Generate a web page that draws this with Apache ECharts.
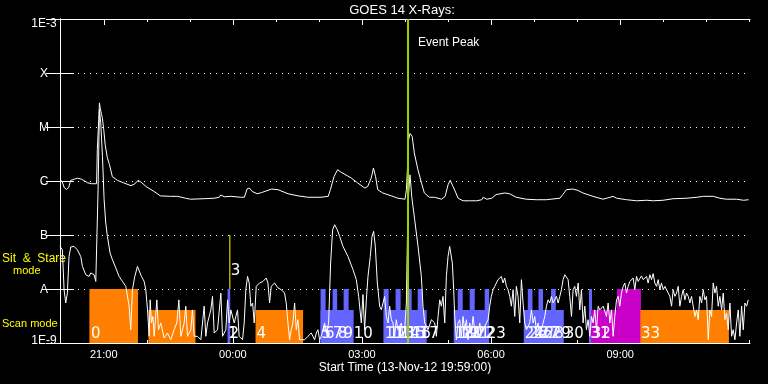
<!DOCTYPE html>
<html><head><meta charset="utf-8">
<script src="https://cdn.jsdelivr.net/npm/echarts@6/dist/echarts.min.js"></script>
<style>html,body{margin:0;padding:0;background:#000}#c{width:768px;height:384px}</style>
</head><body><div id="c"></div>
<script>
// time in minutes after start (13-Nov-12 19:59:00), flux in W/m^2
const xMax = 962;
const xTickMinutes = [61, 241, 421, 601, 781];
const xTickLabels = ['21:00', '00:00', '03:00', '06:00', '09:00'];
const xHourTicks = [1, 61, 121, 181, 241, 301, 361, 421, 481, 541, 601, 661, 721, 781, 841, 901, 961];
const yTickValues = [1e-9, 1e-8, 1e-7, 1e-6, 1e-5, 1e-4, 1e-3];
const yTickLabels = ['1E-9', 'A', 'B', 'C', 'M', 'X', '1E-3'];

const lwData = [[0,1.06e-6],[3,9.7e-7],[6,7.5e-7],[9,7.0e-7],[12,7.5e-7],[15,1.03e-6],[20,1.08e-6],[24,1.13e-6],[30,1.08e-6],[34,1.01e-6],[38,9.3e-7],[44,8.9e-7],[51,8.9e-7],[52,3.8e-6],[54,1.36e-5],[55,2.8e-5],[56,2.28e-5],[58,1.69e-5],[59,1.49e-5],[61,8.9e-6],[63,4.7e-6],[66,2.7e-6],[69,2.0e-6],[73,1.2e-6],[80,1.03e-6],[89,9.2e-7],[99,8.2e-7],[104,8.8e-7],[109,1.03e-6],[114,9.3e-7],[120,7.9e-7],[131,6.4e-7],[140,5.3e-7],[154,5.2e-7],[164,5.2e-7],[175,4.8e-7],[182,4.6e-7],[201,4.7e-7],[215,4.8e-7],[222,5.0e-7],[224,5.5e-7],[229,5.1e-7],[238,5.2e-7],[252,5.0e-7],[257,5.0e-7],[261,7.2e-7],[264,7.4e-7],[268,6.4e-7],[275,5.8e-7],[281,6.1e-7],[295,7.1e-7],[304,6.9e-7],[318,5.8e-7],[332,5.3e-7],[346,5.0e-7],[364,5.0e-7],[374,5.2e-7],[377,6.9e-7],[382,1.2e-6],[387,1.62e-6],[392,1.45e-6],[406,1.14e-6],[415,9.2e-7],[425,7.4e-7],[429,7.9e-7],[434,1.14e-6],[437,1.74e-6],[440,1.2e-6],[443,6.9e-7],[450,6.0e-7],[462,5.3e-7],[471,4.8e-7],[481,4.6e-7],[483,6.9e-7],[485,2.5e-6],[486,5.8e-6],[488,7.6e-6],[491,6.7e-6],[494,3.3e-6],[499,1.62e-6],[504,9.2e-7],[508,6.0e-7],[515,5.0e-7],[522,5.0e-7],[532,4.6e-7],[537,5.2e-7],[541,8.5e-7],[544,1.03e-6],[548,7.9e-7],[552,6.0e-7],[555,4.8e-7],[562,4.3e-7],[571,4.3e-7],[581,4.3e-7],[588,4.5e-7],[590,5.0e-7],[595,4.6e-7],[602,4.8e-7],[608,5.6e-7],[620,6.0e-7],[627,5.8e-7],[636,5.0e-7],[650,4.6e-7],[664,4.5e-7],[678,4.5e-7],[697,4.8e-7],[701,5.6e-7],[706,6.9e-7],[715,7.1e-7],[722,6.7e-7],[729,6.0e-7],[743,5.2e-7],[757,4.6e-7],[767,5.0e-7],[771,5.2e-7],[776,4.8e-7],[790,4.5e-7],[804,4.3e-7],[818,4.4e-7],[827,4.3e-7],[841,4.4e-7],[855,4.7e-7],[874,4.8e-7],[888,5.0e-7],[897,5.2e-7],[911,5.2e-7],[920,4.8e-7],[929,4.6e-7],[943,4.6e-7],[953,4.4e-7],[960,4.5e-7]];

const swData = [[0,6.15e-8],[3.3,5.3e-8],[5.7,9.7e-9],[8.0,5.5e-9],[10.3,8.4e-9],[12.6,4.0e-8],[15.0,6.0e-8],[19.6,6.15e-8],[24.3,5.3e-8],[28.9,4.0e-8],[31.3,2.62e-8],[35.9,1.84e-8],[40.6,1.71e-8],[42.9,1.98e-8],[47.5,1.84e-8],[49.9,1.38e-8],[51.3,1.29e-8],[53.1,6.9e-7],[55.0,2.09e-5],[56.8,1.19e-5],[59.2,2.86e-6],[61.5,4.5e-7],[63.8,1.67e-7],[66.1,9.4e-8],[69.9,4.6e-8],[73.1,3.49e-8],[77.8,2.45e-8],[82.4,1.71e-8],[87.1,1.38e-8],[91.7,1.12e-8],[96.4,4.8e-9],[98.7,1.76e-9],[101.0,9.7e-9],[104.3,1.71e-8],[108.0,2.62e-8],[110.3,2.82e-8],[113.6,1.71e-8],[117.3,1.38e-8],[119.6,9.7e-9],[122.0,4.1e-9],[124.3,1.33e-9],[125.7,6.3e-9],[127.5,2.35e-9],[129.4,3.1e-9],[131.3,1.33e-9],[135.0,6.3e-9],[137.3,1.76e-9],[140.5,2.35e-9],[145.2,1.24e-9],[149.8,1.53e-9],[154.5,1.15e-9],[159.1,1.76e-9],[162.9,2.35e-9],[165.7,6.3e-9],[168.5,1.33e-9],[173.1,2.35e-9],[175.4,4.8e-9],[177.8,1.33e-9],[182.4,1.76e-9],[184.7,4.1e-9],[187.1,1.33e-9],[191.7,1.33e-9],[196.4,1.15e-9],[201.0,4.8e-9],[203.3,1.33e-9],[205.7,2.35e-9],[210.3,4.1e-9],[212.6,7.3e-9],[215.0,1.53e-9],[219.6,1.76e-9],[224.3,8.4e-9],[226.6,1.33e-9],[231.2,1.76e-9],[233.6,6.3e-9],[235.9,2.35e-9],[238.2,4.1e-9],[242.9,2.35e-9],[247.5,4.1e-9],[249.8,1.33e-9],[254.5,1.15e-9],[256.8,2.35e-9],[259.1,9.7e-9],[261.5,1.71e-8],[263.8,1.29e-8],[266.1,4.8e-9],[268.5,5.5e-9],[270.8,2.35e-9],[273.6,1.12e-8],[278.2,1.29e-8],[282.9,1.38e-8],[287.5,1.6e-8],[289.9,1.29e-8],[292.2,5.5e-9],[294.5,1.12e-8],[299.2,1.29e-8],[303.8,1.05e-8],[308.5,9.7e-9],[313.1,8.4e-9],[315.4,5.5e-9],[317.8,2.35e-9],[320.1,1.15e-9],[322.4,1.76e-9],[324.7,2.35e-9],[327.1,5.5e-9],[329.4,1.76e-9],[331.7,2.7e-9],[334.0,1.15e-9],[341.0,1.15e-9],[345.7,1.33e-9],[350.3,1.53e-9],[355.0,1.15e-9],[357.3,1.53e-9],[359.6,1.76e-9],[362.0,1.15e-9],[364.3,1.33e-9],[368.9,2.35e-9],[371.3,1.53e-9],[374.5,2.35e-9],[377.3,3.03e-8],[380.1,1.25e-7],[382.9,1.55e-7],[386.6,1.25e-7],[389.9,9.4e-8],[394.5,6.15e-8],[401.5,4.0e-8],[408.5,2.28e-8],[413.1,1.49e-8],[416.4,7.3e-9],[420.1,2.35e-9],[422.4,7.9e-9],[424.7,1.76e-9],[427.1,6.3e-9],[429.4,1.71e-8],[432.6,4.0e-8],[435.0,9.4e-8],[437.3,1.17e-7],[439.6,6.15e-8],[442.4,1.29e-8],[445.7,4.8e-9],[448.0,4.1e-9],[450.3,5.5e-9],[452.6,7.3e-9],[455.0,3.1e-9],[457.3,2.35e-9],[459.6,4.8e-9],[462.0,2.7e-9],[464.3,2.35e-9],[466.6,1.33e-9],[468.9,2.7e-9],[471.2,1.76e-9],[475.9,2.35e-9],[478.2,1.33e-9],[480.5,1.76e-9],[482.9,5.5e-9],[484.3,8.2e-8],[486.1,6.0e-7],[488.0,1.3e-6],[490.5,5.0e-7],[494.5,1.92e-7],[499.2,6.15e-8],[503.8,1.71e-8],[506.1,4.8e-9],[508.5,2.35e-9],[513.1,1.76e-9],[517.8,2.7e-9],[522.4,2.35e-9],[524.7,1.33e-9],[527.1,3.1e-9],[529.4,6.3e-9],[531.7,4.8e-9],[534.0,7.3e-9],[536.4,2.35e-9],[538.7,1.71e-8],[541.0,4.0e-8],[543.3,6.15e-8],[547.0,3.03e-8],[548.9,9.7e-9],[550.3,3.1e-9],[552.6,1.15e-9],[554.9,2.35e-9],[557.3,2.7e-9],[559.6,1.33e-9],[561.9,3.1e-9],[564.2,1.76e-9],[566.6,2.7e-9],[568.9,1.15e-9],[571.2,2.35e-9],[573.5,1.53e-9],[575.9,3.1e-9],[578.2,1.76e-9],[580.5,2.03e-9],[582.8,1.33e-9],[585.2,2.35e-9],[587.5,1.53e-9],[589.8,1.76e-9],[594.5,2.35e-9],[596.8,2.7e-9],[599.1,4.8e-9],[601.4,7.3e-9],[603.8,9.7e-9],[606.1,1.12e-8],[608.4,1.29e-8],[610.7,1.49e-8],[613.1,1.38e-8],[615.4,1.71e-8],[617.7,1.29e-8],[620.0,1.6e-8],[622.4,1.12e-8],[624.7,9.7e-9],[627.0,7.3e-9],[629.3,4.8e-9],[631.7,9.7e-9],[634.0,3.1e-9],[636.3,1.12e-8],[638.6,7.3e-9],[641.0,2.35e-9],[643.3,1.49e-8],[645.6,5.5e-9],[648.0,2.35e-9],[650.3,1.76e-9],[654.9,2.35e-9],[657.3,4.1e-9],[659.6,2.35e-9],[661.9,3.1e-9],[664.2,1.76e-9],[666.6,2.35e-9],[668.9,1.33e-9],[673.5,2.35e-9],[675.9,3.1e-9],[678.2,4.8e-9],[680.5,6.3e-9],[682.8,5.5e-9],[685.2,7.3e-9],[687.5,5.5e-9],[692.1,7.3e-9],[694.5,5.5e-9],[696.8,7.3e-9],[699.1,9.7e-9],[701.4,1.49e-8],[703.8,1.84e-8],[706.1,1.84e-8],[708.4,1.49e-8],[710.7,7.3e-9],[713.1,3.1e-9],[715.4,9.7e-9],[717.7,1.12e-8],[720.0,7.3e-9],[722.4,1.29e-8],[724.7,4.1e-9],[727.0,9.7e-9],[729.3,2.35e-9],[731.7,4.8e-9],[734.0,1.76e-9],[736.3,2.7e-9],[738.6,1.33e-9],[741.0,3.1e-9],[743.3,2.35e-9],[745.6,4.1e-9],[748.0,1.76e-9],[750.3,4.8e-9],[752.6,4.1e-9],[757.3,4.8e-9],[761.9,3.1e-9],[764.2,5.5e-9],[766.6,2.35e-9],[768.9,4.1e-9],[771.2,1.33e-9],[773.5,3.1e-9],[775.9,6.3e-9],[778.2,7.3e-9],[780.5,4.8e-9],[782.8,8.4e-9],[785.2,1.12e-8],[787.5,1.29e-8],[789.8,8.4e-9],[792.1,1.12e-8],[794.5,1.38e-8],[796.8,1.49e-8],[799.1,1.6e-8],[801.4,9.7e-9],[803.8,1.71e-8],[806.1,1.38e-8],[808.4,1.49e-8],[810.7,1.75e-8],[813.1,1.49e-8],[815.4,1.6e-8],[817.7,1.71e-8],[820.0,1.29e-8],[822.4,1.84e-8],[824.7,1.49e-8],[827.0,1.92e-8],[829.3,1.29e-8],[831.7,1.12e-8],[834.0,1.49e-8],[836.3,9.7e-9],[838.6,1.29e-8],[841.0,9.7e-9],[843.3,1.12e-8],[845.6,9.7e-9],[848.0,8.4e-9],[850.3,7.3e-9],[852.6,4.8e-9],[854.9,9.7e-9],[857.3,7.3e-9],[859.6,8.4e-9],[861.9,1.12e-8],[864.2,4.8e-9],[866.6,7.3e-9],[868.9,9.7e-9],[871.2,6.3e-9],[873.5,8.4e-9],[875.9,7.3e-9],[878.2,5.5e-9],[880.5,7.3e-9],[882.8,4.8e-9],[885.2,3.1e-9],[887.5,4.1e-9],[889.8,2.7e-9],[892.1,7.3e-9],[894.5,5.5e-9],[896.8,9.7e-9],[899.1,6.3e-9],[901.4,7.3e-9],[903.8,1.15e-9],[906.1,4.1e-9],[908.4,3.1e-9],[910.7,1.29e-8],[913.1,8.4e-9],[915.4,1.12e-8],[917.7,4.8e-9],[920.0,7.3e-9],[922.4,4.1e-9],[924.7,8.4e-9],[927.0,2.7e-9],[929.3,3.6e-9],[931.7,1.76e-9],[934.0,5.5e-9],[936.3,1.33e-9],[938.6,1.76e-9],[941.0,1.15e-9],[943.3,2.35e-9],[945.6,4.1e-9],[947.9,1.33e-9],[950.3,4.8e-9],[952.6,1.76e-9],[954.9,5.5e-9],[957.3,4.8e-9],[959.6,6.3e-9]];

// observation blocks: start, end (minutes), top level, kind
const barStart = [41.0, 123.3, 233.6, 272.6, 363.3, 363.3, 380.1, 395.4, 451.2, 451.2, 467.9, 483.3, 498.7, 548.9, 554.5, 571.2, 592.1, 646.6, 652.2, 667.1, 684.6, 737.5, 740.3, 776.6, 809.1];
const barEnd   = [108.7, 188.9, 237.3, 338.9, 409.4, 370.3, 386.4, 402.4, 511.2, 458.2, 474.9, 490.3, 505.7, 597.7, 561.5, 578.2, 598.4, 702.4, 658.7, 673.5, 691.2, 741.7, 776.6, 810.0, 932.6];
const barTop   = [1e-8, 4.1e-9, 1e-8, 4.1e-9, 4.1e-9, 1e-8, 1e-8, 1e-8, 4.1e-9, 1e-8, 1e-8, 1e-8, 1e-8, 4.1e-9, 1e-8, 1e-8, 1e-8, 4.1e-9, 1e-8, 1e-8, 1e-8, 1e-8, 4.1e-9, 1e-8, 4.1e-9];
const barKind  = ['o','o','b','o','b','b','b','b','b','b','b','b','b','b','b','b','b','b','b','b','b','b','m','m','o'];
const kindColor = { o: '#ff8000', b: '#6464ff', m: '#c800c8' };

// observation numbers
const obsMin  = [43.1, 234.3, 236.4, 274.0, 364.7, 369.6, 380.1, 387.1, 395.4, 409.4, 452.6, 458.2, 467.9, 474.9, 483.3, 490.3, 501.5, 550.3, 555.9, 562.9, 572.6, 579.6, 595.0, 648.0, 653.6, 660.6, 669.0, 675.9, 685.7, 703.8, 739.4, 741.4, 810.0];
const obsText = ['0','1','2','4','5','6','7','8','9','10','11','12','13','14','15','16','17','18','19','20','21','22','23','24','25','26','27','28','29','30','31','32','33'];

// sit & stare marker and event peak
const markerMin = 236.8, markerLow = 1e-8, markerHigh = 1e-7, markerText = '3';
const peakMin = 485.2;

const chart = echarts.init(document.getElementById('c'));
const white = '#ffffff';
const baseX = { type: 'value', min: 0, max: xMax, gridIndex: 0, splitLine: { show: false } };
function xAx(pos, ticks, len, labels, line) {
  return Object.assign({}, baseX, {
    position: pos,
    axisLine: { show: line, lineStyle: { color: white, width: 1 } },
    axisTick: { show: true, inside: true, length: len, customValues: ticks, lineStyle: { color: white } },
    axisLabel: labels ? { show: true, customValues: xTickMinutes, color: white, fontFamily: 'Liberation Sans', fontSize: 11, margin: 6,
      formatter: v => xTickLabels[xTickMinutes.indexOf(Math.round(v))] || '' } : { show: false }
  });
}
const yBase = { type: 'log', logBase: 10, min: 1e-9, max: 1e-3 };
chart.setOption({
  backgroundColor: '#000',
  animation: false,
  grid: { left: 60, right: 18, top: 19, bottom: 41, containLabel: false },
  xAxis: [
    xAx('bottom', xTickMinutes, 6, true, true),
    xAx('bottom', xHourTicks, 3, false, false),
    xAx('top', xTickMinutes, 6, false, true),
    xAx('top', xHourTicks, 3, false, false)
  ],
  yAxis: [
    Object.assign({}, yBase, {
      position: 'left',
      axisLine: { show: true, lineStyle: { color: white } },
      axisTick: { show: true, inside: true, length: 14, lineStyle: { color: white } },
      axisLabel: { show: false },
      splitLine: { show: true, lineStyle: { color: white, type: [1, 5], width: 1 } }
    }),
    Object.assign({}, yBase, {
      position: 'right',
      axisLine: { show: true, lineStyle: { color: white } },
      axisTick: { show: true, inside: true, length: 14, lineStyle: { color: white } },
      axisLabel: { show: false },
      splitLine: { show: false }
    })
  ],
  series: [
    {
      type: 'custom', xAxisIndex: 0, yAxisIndex: 0, z: 1,
      encode: { x: [0, 1], y: 2 },
      data: barStart.map((s, i) => [s, barEnd[i], barTop[i]]),
      renderItem: (params, api) => {
        const p1 = api.coord([api.value(0), api.value(2)]);
        const p2 = api.coord([api.value(1), 1e-9]);
        return { type: 'rect', shape: { x: p1[0], y: p1[1], width: p2[0] - p1[0], height: p2[1] - p1[1] },
          style: { fill: kindColor[barKind[params.dataIndex]] } };
      }
    },
    { type: 'line', xAxisIndex: 0, yAxisIndex: 0, z: 2, data: lwData, showSymbol: false, symbol: 'none',
      lineStyle: { color: white, width: 1 } },
    { type: 'line', xAxisIndex: 0, yAxisIndex: 0, z: 2, data: swData, showSymbol: false, symbol: 'none',
      lineStyle: { color: white, width: 1 } },
    {
      type: 'custom', xAxisIndex: 0, yAxisIndex: 0, z: 4,
      data: obsMin.map((m, i) => [m, 1e-9]),
      renderItem: (params, api) => {
        const p = api.coord([api.value(0), api.value(1)]);
        return { type: 'text', x: p[0], y: p[1] - 9,
          style: { text: obsText[params.dataIndex], fill: white, font: '15px "DejaVu Sans"', align: 'left', verticalAlign: 'middle' } };
      }
    },
    {
      // y axis tick labels (flare classes)
      type: 'custom', xAxisIndex: 0, yAxisIndex: 0, z: 4, clip: false,
      data: yTickValues.map(v => [0, v]),
      renderItem: (params, api) => {
        const p = api.coord([api.value(0), api.value(1)]);
        const i = params.dataIndex;
        const dy = i === 0 ? -2.5 : (i === yTickValues.length - 1 ? 5 : 0.5);
        return { type: 'text', x: p[0] - 16, y: p[1] + dy,
          style: { text: yTickLabels[i], fill: white, font: '12px "Liberation Sans"', align: 'center', verticalAlign: 'middle' } };
      }
    },
    { type: 'line', xAxisIndex: 0, yAxisIndex: 0, z: 3, symbol: 'none', data: [[markerMin, markerLow], [markerMin, markerHigh]],
      lineStyle: { color: '#ffff00', width: 1 } },
    {
      type: 'custom', xAxisIndex: 0, yAxisIndex: 0, z: 4, data: [[markerMin, markerLow]],
      renderItem: (params, api) => {
        const p = api.coord([api.value(0), api.value(1)]);
        return { type: 'text', x: p[0] + 1, y: p[1] - 18,
          style: { text: markerText, fill: white, font: '15px "DejaVu Sans"', align: 'left', verticalAlign: 'middle' } };
      }
    },
    { type: 'line', xAxisIndex: 0, yAxisIndex: 0, z: 5, symbol: 'none', data: [[peakMin, 1e-9], [peakMin, 1e-3]],
      lineStyle: { color: '#a0d000', width: 2 } }
  ],
  graphic: [
    { type: 'text', x: 402, y: 10, style: { text: 'GOES 14 X-Rays:', fill: white, font: '13px "Liberation Sans"', align: 'center', verticalAlign: 'middle' } },
    { type: 'text', x: 418, y: 43, style: { text: 'Event Peak', fill: white, font: '12px "Liberation Sans"', align: 'left', verticalAlign: 'middle' } },
    { type: 'text', x: 405, y: 367.5, style: { text: 'Start Time (13-Nov-12 19:59:00)', fill: white, font: '12px "Liberation Sans"', align: 'center', verticalAlign: 'middle' } },
    { type: 'text', x: 2, y: 258.5, style: { text: 'Sit  &  Stare', fill: '#ffff00', font: '12px "Liberation Sans"', align: 'left', verticalAlign: 'middle' } },
    { type: 'text', x: 13, y: 271, style: { text: 'mode', fill: '#ffff00', font: '11px "Liberation Sans"', align: 'left', verticalAlign: 'middle' } },
    { type: 'text', x: 2, y: 323.5, style: { text: 'Scan mode', fill: '#ffff00', font: '11px "Liberation Sans"', align: 'left', verticalAlign: 'middle' } }
  ]
});
</script></body></html>
